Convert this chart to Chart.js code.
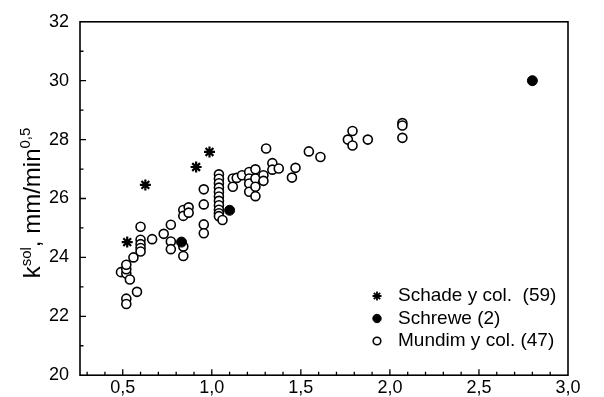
<!DOCTYPE html>
<html lang="es">
<head>
  <meta charset="UTF-8" />
  <title>k sol</title>
  <script src="https://cdn.jsdelivr.net/npm/chart.js"></script>
  <style>
    body { margin: 0; background: #fff; }
    canvas { display: block; }
  </style>
</head>
<body>
<canvas id="ksolChart" width="604" height="397"></canvas>
<script>
  // ticks
  const xTicks = [0.5, 1.0, 1.5, 2.0, 2.5, 3.0];
  const yTicks = [20, 22, 24, 26, 28, 30, 32];

  // Schade y col. (59)
  const schadeX = [0.525, 0.627, 0.912, 0.987];
  const schadeY = [24.52, 26.46, 27.07, 27.58];

  // Schrewe (2)
  const schreweX = [0.83, 1.10, 2.80];
  const schreweY = [24.52, 25.6, 30.0];

  // Mundim y col. (47)
  const mundimX = [
    0.49, 0.52, 0.52, 0.54, 0.52, 0.56, 0.58, 0.52, 0.52,
    0.60, 0.60, 0.60, 0.60, 0.60,
    0.665, 0.73, 0.77, 0.77, 0.77, 0.84, 0.84, 0.84, 0.84, 0.87, 0.87,
    0.955, 0.955, 0.955, 0.955,
    1.04, 1.04, 1.04, 1.04, 1.04, 1.04, 1.04, 1.04, 1.04, 1.04, 1.04, 1.06,
    1.118, 1.118, 1.14, 1.17, 1.21, 1.21, 1.21, 1.21,
    1.245, 1.245, 1.245, 1.245, 1.29, 1.29, 1.305, 1.34, 1.34, 1.376,
    1.45, 1.47, 1.545, 1.61,
    1.764, 1.79, 1.79, 1.876, 2.07, 2.07, 2.07
  ];
  const mundimY = [
    23.5, 23.45, 23.6, 23.25, 23.75, 24.0, 22.83, 22.6, 22.42,
    25.04, 24.6, 24.45, 24.32, 24.2,
    24.62, 24.8, 25.11, 24.54, 24.28, 24.37, 24.05, 25.61, 25.41, 25.70, 25.52,
    26.31, 25.80, 25.12, 24.82,
    26.82, 26.67, 26.52, 26.37, 26.22, 26.07, 25.92, 25.77, 25.62, 25.5, 25.4, 25.27,
    26.68, 26.4, 26.7, 26.79, 26.9, 26.68, 26.51, 26.23,
    26.99, 26.68, 26.4, 26.08, 26.79, 26.6, 27.7, 27.2, 26.98, 27.02,
    26.71, 27.04, 27.6, 27.41,
    28.0, 28.29, 27.8, 28.0, 28.56, 28.48, 28.06
  ];

  const FONT = "'Liberation Sans', Arial, sans-serif";
  const pts = (xs, ys) => xs.map((x, i) => ({ x: x, y: ys[i] }));

  const datasets = [
    { label: 'Schade y col.  (59)', data: pts(schadeX, schadeY), pointStyle: 'star',
      pointRadius: 5.5, borderColor: '#000', backgroundColor: '#000', pointBorderWidth: 2.2 },
    { label: 'Schrewe (2)', data: pts(schreweX, schreweY), pointStyle: 'circle',
      pointRadius: 5, borderColor: '#000', backgroundColor: '#000', pointBorderWidth: 1 },
    { label: 'Mundim y col. (47)', data: pts(mundimX, mundimY), pointStyle: 'circle',
      pointRadius: 4.5, borderColor: '#000', backgroundColor: '#fff', pointBorderWidth: 1.6 }
  ];

  // frame, inward ticks, y title, legend
  const decor = {
    id: 'decor',
    afterDraw(chart) {
      const ctx = chart.ctx;
      const a = chart.chartArea;
      const xs = chart.scales.x, ys = chart.scales.y;
      ctx.save();
      ctx.strokeStyle = '#000';
      ctx.lineWidth = 1.6;
      ctx.strokeRect(a.left, a.top, a.right - a.left, a.bottom - a.top);

      ctx.lineWidth = 1.3;
      ctx.beginPath();
      for (let i = 3; i <= 29; i++) {
        const v = i / 10;
        const px = xs.getPixelForValue(v);
        const len = (i % 5 === 0) ? 6 : 3.5;
        ctx.moveTo(px, a.bottom);
        ctx.lineTo(px, a.bottom - len);
      }
      for (let v = 21; v <= 31; v++) {
        const py = ys.getPixelForValue(v);
        const len = (v % 2 === 0) ? 6 : 3.5;
        ctx.moveTo(a.left, py);
        ctx.lineTo(a.left + len, py);
      }
      ctx.stroke();

      // y title with superscripts
      ctx.fillStyle = '#000';
      ctx.textBaseline = 'alphabetic';
      const parts = [
        ['k', 24, 0], ['sol', 15, 9], [', mm/min', 24, 0], ['0,5', 15, 10]
      ];
      let total = 0;
      parts.forEach(p => { ctx.font = p[1] + 'px ' + FONT; total += ctx.measureText(p[0]).width; });
      ctx.translate(40, 203);
      ctx.rotate(-Math.PI / 2);
      let cx = -total / 2;
      parts.forEach(p => {
        ctx.font = p[1] + 'px ' + FONT;
        ctx.fillText(p[0], cx, -p[2]);
        cx += ctx.measureText(p[0]).width;
      });
      ctx.setTransform(1, 0, 0, 1, 0, 0);

      // legend inside plot
      const rows = [296, 318.5, 341];
      ctx.font = '19px ' + FONT;
      ctx.textBaseline = 'middle';
      chart.data.datasets.forEach((ds, i) => {
        const mx = 377, my = rows[i];
        ctx.lineWidth = ds.pointBorderWidth;
        ctx.strokeStyle = '#000';
        ctx.fillStyle = ds.backgroundColor;
        if (ds.pointStyle === 'star') {
          ctx.lineWidth = 1.8;
          ctx.beginPath();
          const r = 4.5;
          for (let k = 0; k < 4; k++) {
            const ang = k * Math.PI / 4;
            ctx.moveTo(mx - r * Math.cos(ang), my - r * Math.sin(ang));
            ctx.lineTo(mx + r * Math.cos(ang), my + r * Math.sin(ang));
          }
          ctx.stroke();
        } else {
          ctx.beginPath();
          ctx.arc(mx, my, i === 1 ? 4.2 : 3.8, 0, Math.PI * 2);
          ctx.fill();
          ctx.stroke();
        }
        ctx.fillStyle = '#000';
        ctx.fillText(ds.label, 398, my);
      });
      ctx.restore();
    }
  };

  new Chart(document.getElementById('ksolChart'), {
    type: 'scatter',
    data: { datasets: datasets },
    options: {
      responsive: false,
      animation: false,
      layout: { padding: { left: 0, top: 21, right: 36, bottom: 0 } },
      plugins: { legend: { display: false }, tooltip: { enabled: false } },
      scales: {
        x: {
          type: 'linear', min: 0.26, max: 3.0,
          grid: { display: false, drawTicks: false },
          border: { display: false },
          ticks: {
            color: '#000', font: { size: 18, family: FONT }, padding: 2,
            autoSkip: false, maxRotation: 0,
            callback: v => v.toFixed(1).replace('.', ',')
          },
          afterBuildTicks: s => { s.ticks = xTicks.map(v => ({ value: v })); },
          afterFit: s => { s.height = 21; }
        },
        y: {
          type: 'linear', min: 20, max: 32,
          grid: { display: false, drawTicks: false },
          border: { display: false },
          ticks: { color: '#000', font: { size: 18, family: FONT }, padding: 11, autoSkip: false },
          afterBuildTicks: s => { s.ticks = yTicks.map(v => ({ value: v })); },
          afterFit: s => { s.width = 80; }
        }
      }
    },
    plugins: [decor]
  });
</script>
</body>
</html>
